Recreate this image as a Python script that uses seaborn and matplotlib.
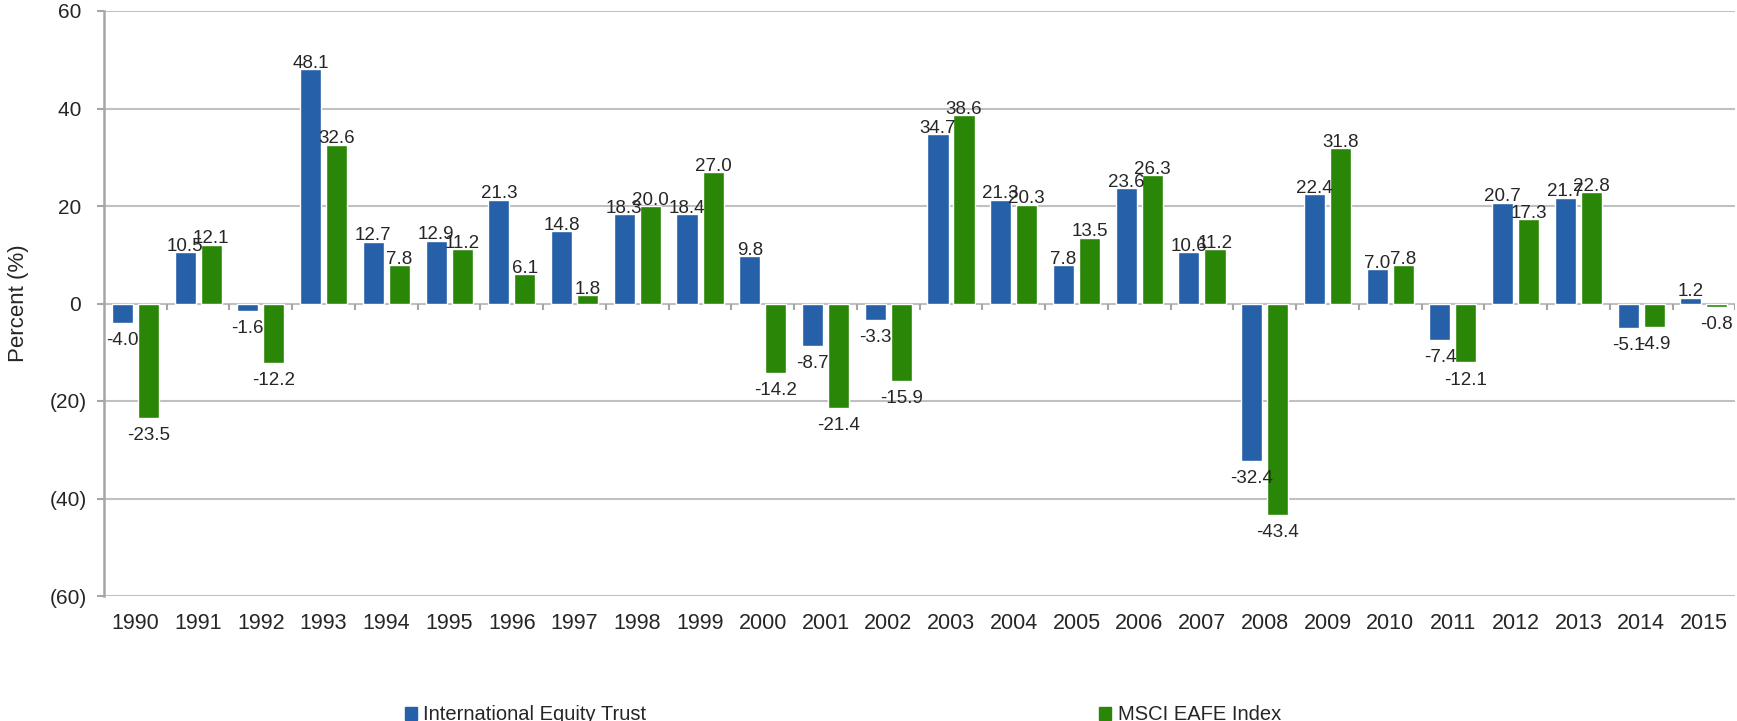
import matplotlib
matplotlib.use('Agg')
import matplotlib.pyplot as plt
import matplotlib.ticker as mticker
from matplotlib.patches import Patch
import pandas as pd
import seaborn as sns

years = [str(y) for y in range(1990, 2016)]
trust = [-4.0, 10.5, -1.6, 48.1, 12.7, 12.9, 21.3, 14.8, 18.3, 18.4, 9.8, -8.7, -3.3,
         34.7, 21.3, 7.8, 23.6, 10.6, -32.4, 22.4, 7.0, -7.4, 20.7, 21.7, -5.1, 1.2]
msci = [-23.5, 12.1, -12.2, 32.6, 7.8, 11.2, 6.1, 1.8, 20.0, 27.0, -14.2, -21.4, -15.9,
        38.6, 20.3, 13.5, 26.3, 11.2, -43.4, 31.8, 7.8, -12.1, 17.3, 22.8, -4.9, -0.8]
series_names = ['International Equity Trust', 'MSCI EAFE Index']
colors = ['#2560A8', '#2A8607']
y_ticks = [-60, -40, -20, 0, 20, 40, 60]

df = pd.DataFrame({
    'year': years * 2,
    'value': trust + msci,
    'series': [series_names[0]] * len(years) + [series_names[1]] * len(years),
})

sns.set_style('white')
plt.rcParams['font.family'] = ['Liberation Sans', 'DejaVu Sans']

fig = plt.figure(figsize=(17.37, 7.21), dpi=100)
ax = fig.add_axes([104 / 1737, 1 - 596 / 721, 1 - 104 / 1737 - 0.001, (596 - 11) / 721])

sns.barplot(data=df, x='year', y='value', hue='series', palette=colors,
            width=0.83, gap=0.19, errorbar=None, legend=False, saturation=1, ax=ax)

# data labels: sitting on positive bars, a little gap below negative ones
for cont, vals in zip(ax.containers, [trust, msci]):
    ax.bar_label(cont, labels=[f'{v:.1f}' if v >= 0 else '' for v in vals],
                 padding=-2, fontsize=13.5)
    ax.bar_label(cont, labels=[f'{v:.1f}' if v < 0 else '' for v in vals],
                 padding=6.5, fontsize=13.5)

ax.set_ylim(-60, 60)
ax.set_xlim(-0.5, len(years) - 0.5)
ax.set_yticks(y_ticks)
# excel style: negatives in brackets, positives padded for the bracket
ax.yaxis.set_major_formatter(mticker.FuncFormatter(
    lambda v, p: f'({abs(int(v))})' if v < 0 else f'{int(v)} '))
ax.grid(axis='y', color='#C0C0C0', linewidth=1.5)
ax.set_axisbelow(True)

for side in ['top', 'right', 'bottom']:
    ax.spines[side].set_visible(False)
ax.spines['left'].set_color('#A6A6A6')
ax.spines['left'].set_linewidth(1.8)

ax.tick_params(axis='y', length=5, width=1.5, color='#A6A6A6', pad=7,
               labelsize=15, left=True)
ax.tick_params(axis='x', length=0, pad=12.5, labelsize=15.5)

# category separators on the zero line
ax.vlines([i + 0.5 for i in range(len(years))], -1.4, 0, color='#A6A6A6', linewidth=1.5)

ax.set_xlabel('')
ax.set_ylabel('Percent (%)', fontsize=16, labelpad=15)

handles = [Patch(color=c) for c in colors]
fig.legend(handles, series_names, loc='center left', bbox_to_anchor=(405 / 1737, 1 - 715 / 721),
           ncol=2, frameon=False, fontsize=14.5, handlelength=0.6, handleheight=0.6,
           handletextpad=0.3, columnspacing=22.5, borderpad=0, borderaxespad=0)

fig.savefig('out.png', dpi=100)
